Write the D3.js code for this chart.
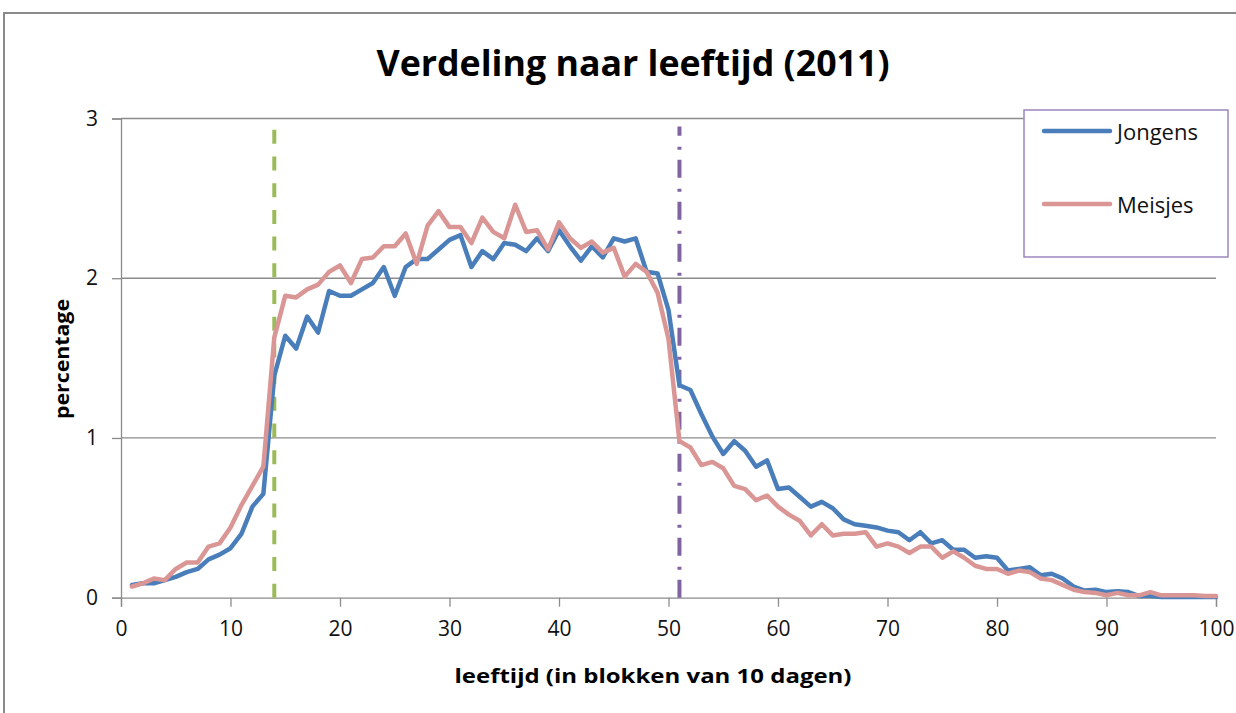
<!DOCTYPE html>
<html>
<head>
<meta charset="utf-8">
<script src="https://cdn.jsdelivr.net/npm/d3@7"></script>
<style>
  html, body { margin: 0; padding: 0; background: #fff; }
  svg { display: block; font-family: "Open Sans", "Liberation Sans", sans-serif; }
</style>
</head>
<body>
<svg id="chart" width="1236" height="713"></svg>
<script>
// leeftijd in blokken van 10 dagen: 1..100
var jongens = [
    0.08, 0.09, 0.09, 0.11, 0.13, 0.16, 0.18, 0.24, 0.27, 0.31, 0.40, 0.57, 0.65,
    1.39, 1.64, 1.56, 1.76, 1.66, 1.92, 1.89,
    1.89, 1.93, 1.97, 2.07, 1.89, 2.07, 2.12, 2.12, 2.18, 2.24,
    2.27, 2.07, 2.17, 2.12, 2.22, 2.21, 2.17, 2.25, 2.17, 2.30,
    2.20, 2.11, 2.20, 2.13, 2.25, 2.23, 2.25, 2.04, 2.03, 1.80,
    1.33, 1.30, 1.15, 1.01, 0.90, 0.98, 0.92, 0.82, 0.86, 0.68,
    0.69, 0.63, 0.57, 0.60, 0.56, 0.49, 0.46, 0.45, 0.44, 0.42,
    0.41, 0.36, 0.41, 0.34, 0.36, 0.30, 0.30, 0.25, 0.26, 0.25,
    0.17, 0.18, 0.19, 0.14, 0.15, 0.12, 0.07, 0.045, 0.05, 0.035,
    0.04, 0.035, 0.01, 0.01, 0.005, 0.005, 0.005, 0.005, 0.005, 0.005
];
var meisjes = [
    0.07, 0.09, 0.12, 0.11, 0.18, 0.22, 0.22, 0.32, 0.34, 0.44, 0.58, 0.70, 0.82,
    1.63, 1.89, 1.88, 1.93, 1.96, 2.04, 2.08,
    1.97, 2.12, 2.13, 2.20, 2.20, 2.28, 2.09, 2.33, 2.42, 2.32,
    2.32, 2.22, 2.38, 2.29, 2.25, 2.46, 2.29, 2.30, 2.18, 2.35,
    2.25, 2.19, 2.23, 2.16, 2.19, 2.01, 2.09, 2.04, 1.91, 1.62,
    0.98, 0.94, 0.83, 0.85, 0.81, 0.70, 0.68, 0.61, 0.64, 0.57,
    0.52, 0.48, 0.39, 0.46, 0.39, 0.40, 0.40, 0.41, 0.32, 0.34,
    0.32, 0.28, 0.32, 0.32, 0.25, 0.29, 0.25, 0.20, 0.18, 0.18,
    0.15, 0.17, 0.16, 0.12, 0.11, 0.08, 0.05, 0.035, 0.03, 0.015,
    0.03, 0.015, 0.015, 0.035, 0.015, 0.015, 0.015, 0.015, 0.01, 0.01
];
var xTicks = [0, 10, 20, 30, 40, 50, 60, 70, 80, 90, 100],
    yTicks = [0, 1, 2, 3];
// verticale markeringen (leeftijdsgrenzen)
var markerX = [14, 51],
    markerTop = [2.95, 2.95];

var svg = d3.select("#chart"),
    x = d3.scaleLinear().domain([0, 100]).range([121, 1216]),
    y = d3.scaleLinear().domain([0, 3]).range([597.7, 118.5]),
    gray = "#8c8c8c";

// outer chart border
svg.append("rect")
    .attr("x", 4).attr("y", 13).attr("width", 1260).attr("height", 740)
    .attr("fill", "none").attr("stroke", "#8a8a8a").attr("stroke-width", 2);

// gridlines
svg.append("g").selectAll("line").data(yTicks.slice(1)).join("line")
    .attr("x1", x(0)).attr("x2", x(100))
    .attr("y1", function (d) { return y(d); }).attr("y2", function (d) { return y(d); })
    .attr("stroke", gray).attr("stroke-width", 1.3);

// axes
var yAxis = svg.append("g").attr("transform", "translate(" + x(0) + ",0)")
    .call(d3.axisLeft(y).tickValues(yTicks).tickSize(9).tickPadding(14).tickFormat(d3.format("d")));
var xAxis = svg.append("g").attr("transform", "translate(0," + y(0) + ")")
    .call(d3.axisBottom(x).tickValues(xTicks).tickSize(9).tickPadding(14));
[yAxis, xAxis].forEach(function (a) {
    a.select(".domain").attr("stroke", gray).attr("stroke-width", 1.3);
    a.selectAll(".tick line").attr("stroke", gray).attr("stroke-width", 1.3);
    a.selectAll(".tick text").attr("font-size", 21).attr("fill", "#111")
        .attr("font-family", "Open Sans, sans-serif");
});

// marker lines
var markerStyle = [
    { color: "#9bbb59", dash: "14,12.7" },
    { color: "#8064a2", dash: "18,10,3,11" }
];
svg.append("g").selectAll("line").data(markerX).join("line")
    .attr("x1", function (d) { return x(d); }).attr("x2", function (d) { return x(d); })
    .attr("y1", y(0)).attr("y2", function (d, i) { return y(markerTop[i]); })
    .attr("stroke", function (d, i) { return markerStyle[i].color; })
    .attr("stroke-width", 4)
    .attr("stroke-dasharray", function (d, i) { return markerStyle[i].dash; });

// series lines
var line = d3.line()
    .x(function (d, i) { return x(i + 1); })
    .y(function (d) { return y(d); });
var series = [
    { name: "Jongens", values: jongens, color: "#4a7ebb" },
    { name: "Meisjes", values: meisjes, color: "#d99694" }
];
svg.append("g").selectAll("path").data(series).join("path")
    .attr("d", function (d) { return line(d.values); })
    .attr("fill", "none")
    .attr("stroke", function (d) { return d.color; })
    .attr("stroke-width", 4.5)
    .attr("stroke-linejoin", "round")
    .attr("stroke-linecap", "round");

// legend
var legend = svg.append("g");
legend.append("rect")
    .attr("x", 1024).attr("y", 110).attr("width", 204).attr("height", 147)
    .attr("fill", "#fff").attr("stroke", "#9c86bd").attr("stroke-width", 1.5);
var item = legend.selectAll("g.item").data(series).join("g")
    .attr("class", "item")
    .attr("transform", function (d, i) { return "translate(0," + (131 + i * 73) + ")"; });
item.append("line")
    .attr("x1", 1044).attr("x2", 1110).attr("y1", 0).attr("y2", 0)
    .attr("stroke", function (d) { return d.color; })
    .attr("stroke-width", 4.5).attr("stroke-linecap", "round");
item.append("text")
    .attr("x", 1117).attr("y", 9)
    .attr("font-size", 22).attr("fill", "#111")
    .text(function (d) { return d.name; });

// titles, stretched to the width they take in the original
function fitText(sel, w) {
    return sel.attr("textLength", w).attr("lengthAdjust", "spacingAndGlyphs");
}
fitText(svg.append("text")
    .attr("x", 633).attr("y", 76)
    .attr("text-anchor", "middle")
    .attr("font-size", 35).attr("font-weight", "bold").attr("fill", "#000")
    .text("Verdeling naar leeftijd (2011)"), 513);

fitText(svg.append("text")
    .attr("x", 653).attr("y", 683)
    .attr("text-anchor", "middle")
    .attr("font-size", 20).attr("font-weight", "bold").attr("fill", "#000")
    .text("leeftijd (in blokken van 10 dagen)"), 397);

fitText(svg.append("text")
    .attr("transform", "translate(69,359) rotate(-90)")
    .attr("text-anchor", "middle")
    .attr("font-size", 20).attr("font-weight", "bold").attr("fill", "#000")
    .text("percentage"), 120);
</script>
</body>
</html>
